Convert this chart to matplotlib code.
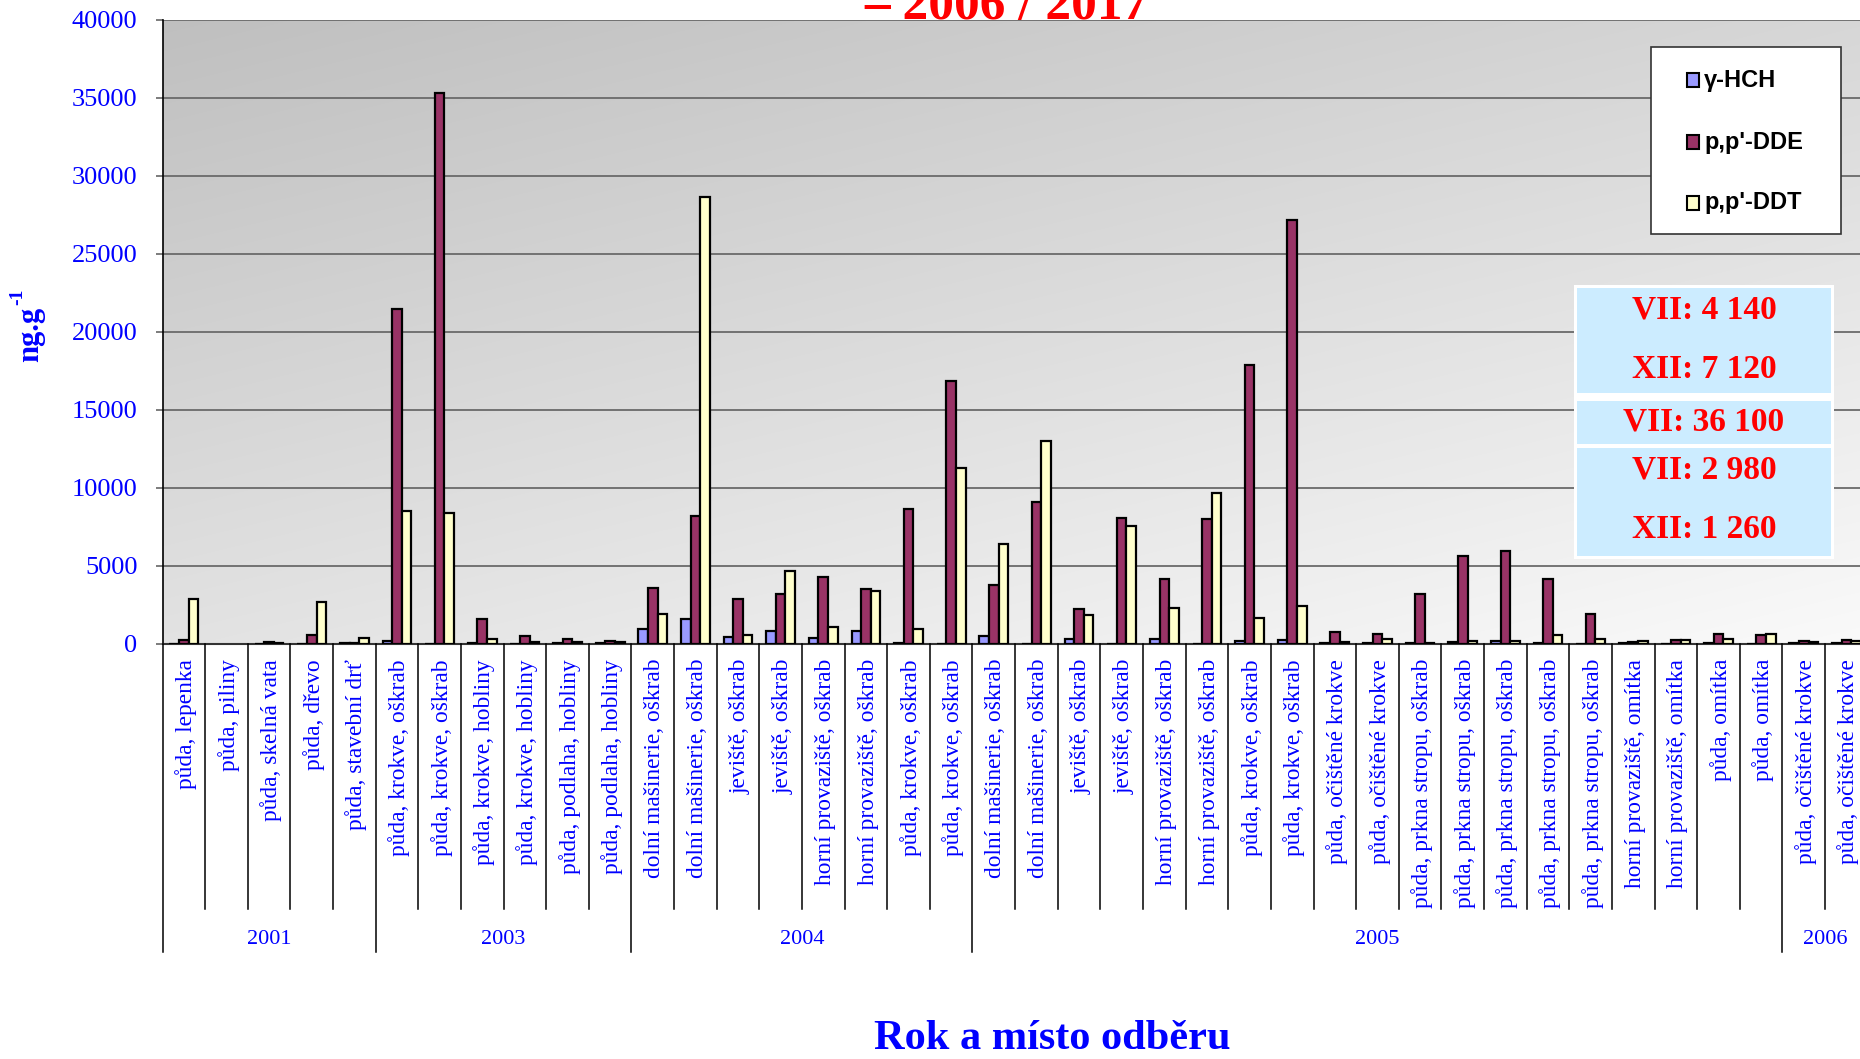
import matplotlib
matplotlib.use('Agg')
import matplotlib.pyplot as plt
import matplotlib.transforms as mtransforms
from matplotlib.patches import Rectangle
from matplotlib.lines import Line2D
import numpy as np

# ---------------- data ----------------
categories = [
    "půda, lepenka", "půda, piliny", "půda, skelná vata", "půda, dřevo", "půda, stavební drť",
    "půda, krokve, oškrab", "půda, krokve, oškrab", "půda, krokve, hobliny", "půda, krokve, hobliny",
    "půda, podlaha, hobliny", "půda, podlaha, hobliny",
    "dolní mašinerie, oškrab", "dolní mašinerie, oškrab", "jeviště, oškrab", "jeviště, oškrab",
    "horní provaziště, oškrab", "horní provaziště, oškrab", "půda, krokve, oškrab", "půda, krokve, oškrab",
    "dolní mašinerie, oškrab", "dolní mašinerie, oškrab", "jeviště, oškrab", "jeviště, oškrab",
    "horní provaziště, oškrab", "horní provaziště, oškrab", "půda, krokve, oškrab", "půda, krokve, oškrab",
    "půda, očištěné krokve", "půda, očištěné krokve",
    "půda, prkna stropu, oškrab", "půda, prkna stropu, oškrab", "půda, prkna stropu, oškrab",
    "půda, prkna stropu, oškrab", "půda, prkna stropu, oškrab",
    "horní provaziště, omítka", "horní provaziště, omítka", "půda, omítka", "půda, omítka",
    "půda, očištěné krokve", "půda, očištěné krokve",
]
years = ["2001", "2003", "2004", "2005", "2006"]
year_counts = [5, 6, 8, 19, 2]

series_names = ["γ-HCH", "p,p'-DDE", "p,p'-DDT"]
hch = [0, np.nan, 0, 0, 30, 170, 0, 40, 0, 40, 40,
       960, 1600, 430, 810, 360, 790, 20, 0,
       470, 0, 300, 0, 260, 0, 130, 210, 60, 40, 40, 100, 130, 40, 0, 40, 0, 60, 0,
       40, 40]
dde = [210, np.nan, 100, 555, 60, 21430, 35340, 1560, 470, 280, 170,
       3560, 8205, 2860, 3200, 4270, 3500, 8630, 16860,
       3780, 9080, 2220, 8055, 4120, 7970, 17840, 27140, 725, 600, 3200, 5640, 5940, 4120, 1920,
       100, 210, 600, 555,
       130, 210]
ddt = [2840, np.nan, 40, 2670, 340, 8525, 8355, 260, 100, 80, 100,
       1880, 28650, 555, 4630, 1070, 3370, 900, 11260,
       6410, 12990, 1810, 7520, 2280, 9660, 1620, 2410, 100, 300, 40, 150, 130, 575, 260,
       170, 210, 260, 600,
       100, 130]

note_lines = [["VII: 4 140", "XII: 7 120"], ["VII: 36 100"], ["VII: 2 980", "XII: 1 260"]]
title_text = "– 2006 / 2017"
x_title = "Rok a místo odběru"

# ---------------- figure ----------------
W, H = 1860, 1059
fig = plt.figure(figsize=(W / 100, H / 100), dpi=100)
fig.patch.set_facecolor('white')


def fx(px):
    return px / W


def fy(py):
    return 1 - py / H


serif = 'Liberation Serif'
sans = 'Liberation Sans'
blue = '#0000FF'

cat_w = 42.63
y_top, y_zero = 20, 643.5
ax = fig.add_axes([fx(162.5), fy(y_zero), len(categories) * cat_w / W, (y_zero - y_top) / H])

# gradient background
nx, ny = 300, 300
xx, yy = np.meshgrid(np.linspace(0, 1, nx), np.linspace(0, 1, ny))
t = 0.4 * xx + 0.6 * yy
c = 0.75 + 0.23 * t
ax.imshow(np.dstack([c, c, c]), extent=[0, len(categories), 0, 40000], aspect='auto',
          origin='upper', zorder=0, interpolation='bilinear')

n = len(categories)
x = np.arange(n) + 0.5
bw = 0.225
colors = ['#9999FF', '#993366', '#FFFFCC']
for k, (vals, col) in enumerate(zip([hch, dde, ddt], colors)):
    ax.bar(x + (k - 1) * bw, np.array(vals, dtype=float), bw, color=col,
           edgecolor='black', linewidth=1.6, zorder=3)

ax.set_xlim(0, n)
ax.set_ylim(0, 40000)
ax.set_yticks(np.arange(0, 40001, 5000))
ax.set_yticklabels([str(v) for v in range(0, 40001, 5000)], fontsize=19, color=blue,
                   family=serif)
ax.tick_params(axis='y', length=5, width=1.2, color='#666666', pad=13)
ax.set_xticks([])
ax.yaxis.grid(True, color='#6A6A6A', linewidth=1.3)
ax.set_axisbelow(True)
for s in ['top', 'right']:
    ax.spines[s].set_visible(False)
ax.spines['left'].set_color('black')
ax.spines['left'].set_linewidth(1.2)
ax.spines['bottom'].set_color('#333333')
ax.spines['bottom'].set_linewidth(1.5)

trans = mtransforms.blended_transform_factory(ax.transData, fig.transFigure)
bounds = np.cumsum(year_counts)
year_edges = set([0] + list(bounds))
for i in range(0, n + 1):
    end = 952 if i in year_edges else 909
    fig.add_artist(Line2D([i, i], [fy(y_zero), fy(end)], transform=trans, color='black',
                          linewidth=1.1, clip_on=False))

for i, lab in enumerate(categories):
    ax.text(i + 0.55, fy(659), lab, transform=trans, rotation=90, ha='center', va='top',
            color=blue, fontsize=16.8, family=serif, clip_on=False)

start = 0
for yr, cnt in zip(years, year_counts):
    ax.text(start + cnt / 2, fy(940), yr, transform=trans, ha='center', va='center',
            color=blue, fontsize=16, family=serif, clip_on=False)
    start += cnt

# axis titles
fig.text(fx(31), fy(334), 'ng.g', rotation=90, ha='center', va='center', fontsize=22,
         fontweight='bold', color=blue, family=serif)
fig.text(fx(18), fy(297), '-1', rotation=90, ha='center', va='center', fontsize=14,
         fontweight='bold', color=blue, family=serif)
fig.text(fx(1052), fy(1049), x_title, ha='center', va='baseline', fontsize=30.5,
         fontweight='bold', color=blue, family=serif)

# title (its upper part lies above the picture, as in the original)
fig.text(fx(1006), fy(19), title_text, ha='center', va='baseline', fontsize=37,
         fontweight='bold', color='red', family=serif, zorder=6)

# legend
fig.add_artist(Rectangle((fx(1651), fy(234)), fx(1841) - fx(1651), fy(47) - fy(234),
                         transform=fig.transFigure, facecolor='white', edgecolor='#333333',
                         linewidth=1.2, zorder=5))
for name, col, py in zip(series_names, colors, [80, 142, 203]):
    fig.add_artist(Rectangle((fx(1687), fy(py + 7)), 12 / W, 14 / H, transform=fig.transFigure,
                             facecolor=col, edgecolor='black', linewidth=1.5, zorder=6))
    fig.text(fx(1704), fy(py), name, ha='left', va='center', fontsize=17, fontweight='bold',
             family=sans, color='black', zorder=7)

# annotation boxes
fig.add_artist(Rectangle((fx(1574), fy(559)), fx(1834) - fx(1574), fy(285) - fy(559),
                         transform=fig.transFigure, facecolor='white', edgecolor='none', zorder=5))
boxes = [(288, 393), (401, 444), (448, 556)]
text_y = [[310, 370], [422], [470, 529]]
for (t0, t1), lines, ys in zip(boxes, note_lines, text_y):
    fig.add_artist(Rectangle((fx(1577), fy(t1)), fx(1831) - fx(1577), fy(t0) - fy(t1),
                             transform=fig.transFigure, facecolor='#CCECFF',
                             edgecolor='none', zorder=6))
    for ln, py in zip(lines, ys):
        fig.text(fx(1704), fy(py), ln, ha='center', va='center', fontsize=24,
                 fontweight='bold', color='red', family=serif, zorder=7)

fig.savefig('out.png', dpi=100)
